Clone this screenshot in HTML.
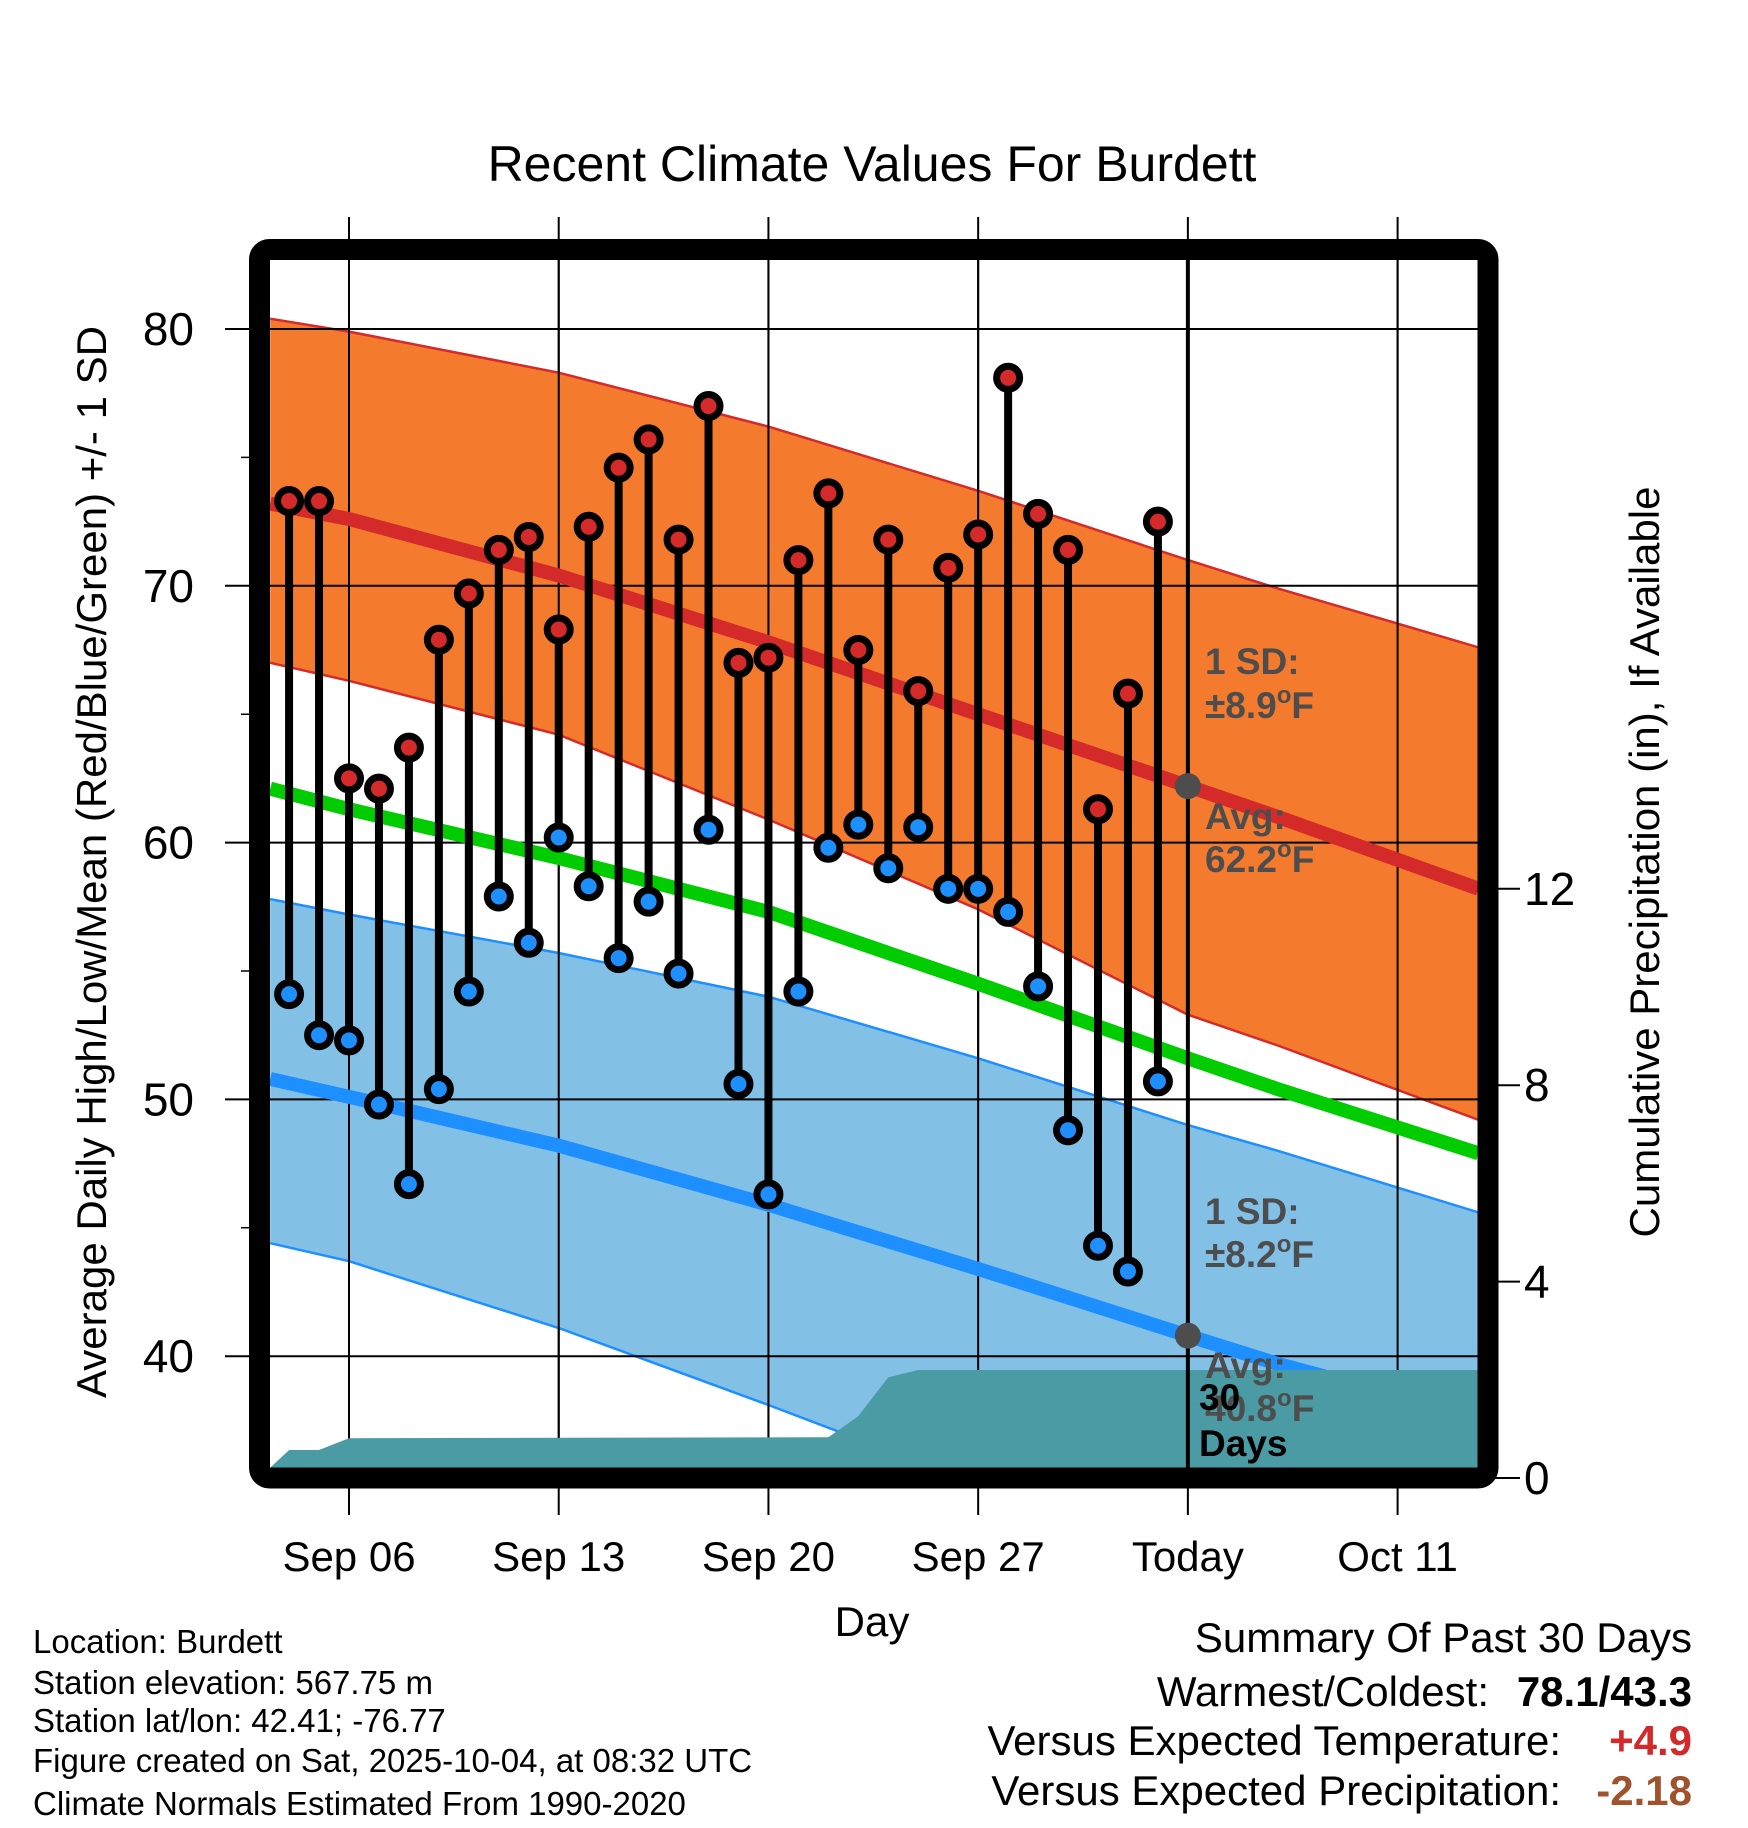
<!DOCTYPE html>
<html><head><meta charset="utf-8"><style>
html,body{margin:0;padding:0;background:#fff;}
svg{display:block;font-family:"Liberation Sans",Arial,sans-serif;}
</style></head><body>
<svg id="chart" width="1748" height="1828" viewBox="0 0 1748 1828" xmlns="http://www.w3.org/2000/svg">
<defs><clipPath id="pc"><rect x="270" y="260" width="1208" height="1208"/></clipPath></defs>
<text x="872" y="181" font-size="50" text-anchor="middle">Recent Climate Values For Burdett</text>
<g id="grid"></g>
<g id="plot" clip-path="url(#pc)"></g>
<g id="marks"></g>
<g id="ann" font-weight="bold" font-size="37" fill="#4d4d4d">
<text x="1205" y="674">1 SD:</text>
<text x="1205" y="718">±8.9<tspan dy="-15" font-size="24">o</tspan><tspan dy="15">F</tspan></text>
<text x="1205" y="829">Avg:</text>
<text x="1205" y="872">62.2<tspan dy="-15" font-size="24">o</tspan><tspan dy="15">F</tspan></text>
<text x="1205" y="1224">1 SD:</text>
<text x="1205" y="1267">±8.2<tspan dy="-15" font-size="24">o</tspan><tspan dy="15">F</tspan></text>
<text x="1205" y="1378">Avg:</text>
<text x="1205" y="1421">40.8<tspan dy="-15" font-size="24">o</tspan><tspan dy="15">F</tspan></text>
<text x="1199" y="1410" fill="#000">30</text>
<text x="1199" y="1456" fill="#000">Days</text>
</g>
<rect x="259.5" y="249.5" width="1228.5" height="1228.5" rx="10" fill="none" stroke="#000" stroke-width="21"/>
<g id="axes" font-size="46"></g>
<text transform="translate(106,862) rotate(-90)" font-size="42" text-anchor="middle">Average Daily High/Low/Mean (Red/Blue/Green) +/- 1 SD</text>
<text transform="translate(1659,862) rotate(-90)" font-size="42" text-anchor="middle">Cumulative Precipitation (in), If Available</text>
<text x="872" y="1636" font-size="42" text-anchor="middle">Day</text>
<g font-size="33">
<text x="33" y="1653">Location: Burdett</text>
<text x="33" y="1694">Station elevation: 567.75 m</text>
<text x="33" y="1732">Station lat/lon: 42.41; -76.77</text>
<text x="33" y="1772">Figure created on Sat, 2025-10-04, at 08:32 UTC</text>
<text x="33" y="1815">Climate Normals Estimated From 1990-2020</text>
</g>
<g font-size="42">
<text x="1692" y="1652" text-anchor="end">Summary Of Past 30 Days</text>
<text x="1489" y="1706" text-anchor="end">Warmest/Coldest:</text>
<text x="1692" y="1706" text-anchor="end" font-weight="bold">78.1/43.3</text>
<text x="1561" y="1755" text-anchor="end">Versus Expected Temperature:</text>
<text x="1692" y="1755" text-anchor="end" font-weight="bold" fill="#d22a2a">+4.9</text>
<text x="1561" y="1805" text-anchor="end">Versus Expected Precipitation:</text>
<text x="1692" y="1805" text-anchor="end" font-weight="bold" fill="#a0522d">-2.18</text>
</g>
</svg>
<script>
const days = [4,5,6,7,8,9,10,11,12,13,14,15,16,17,18,19,20,21,22,23,24,25,26,27,28,29,30,31,32,33];
const highs = [73.3,73.3,62.5,62.1,63.7,67.9,69.7,71.4,71.9,68.3,72.3,74.6,75.7,71.8,77.0,67.0,67.2,71.0,73.6,67.5,71.8,65.9,70.7,72.0,78.1,72.8,71.4,61.3,65.8,72.5];
const lows = [54.1,52.5,52.3,49.8,46.7,50.4,54.2,57.9,56.1,60.2,58.3,55.5,57.7,54.9,60.5,50.6,46.3,54.2,59.8,60.7,59.0,60.6,58.2,58.2,57.3,54.4,48.8,44.3,43.3,50.7];
const normDays = [3.37,6,13,20,27,34,37,43.7];
const normHigh = [73.2,72.6,70.4,67.8,65.0,62.2,61.0,58.2];
const highSdTop = [80.4,79.9,78.3,76.2,73.7,71.0,69.9,67.6];
const highSdBot = [67.0,66.3,64.2,60.9,57.4,53.3,52.1,49.2];
const normMean = [62.1,61.3,59.4,57.3,54.5,51.6,50.4,47.9];
const normLow = [50.8,50.1,48.2,45.9,43.4,40.8,39.7,37.6];
const lowSdTop = [57.8,57.2,55.7,54.0,51.6,49.0,48.0,45.6];
const lowSdBot = [44.4,43.7,41.1,38.1,35.0,32.2,31.0,28.1];
const precipDays = [3,4,5,6,22,23,24,25,43.7];
const precipVals = [0,0.57,0.57,0.81,0.83,1.26,2.05,2.2,2.2];
const xTickDays = [6,13,20,27,34,41];
const xTickLabels = ["Sep 06","Sep 13","Sep 20","Sep 27","Today","Oct 11"];
const yTicks = [40,50,60,70,80];
const yMinor = [45,55,65,75];
const y2Ticks = [0,4,8,12];
const todayDay = 34;

const NS='http://www.w3.org/2000/svg';
const X = d => 349 + (d-6)*29.96;
const Y = v => 329 + (80-v)*25.68;
const YP = p => 1478 - p*49.1;
function mk(parent, tag, attrs){const e=document.createElementNS(NS,tag);for(const k in attrs)e.setAttribute(k,attrs[k]);parent.appendChild(e);return e;}
const plot=document.getElementById('plot'), grid=document.getElementById('grid'), marks=document.getElementById('marks'), axes=document.getElementById('axes');
function linePts(ds,vs){return ds.map((d,i)=>X(d).toFixed(1)+','+Y(vs[i]).toFixed(1));}
function band(top,bot,fill,edge,name){
  const pts=linePts(normDays,top).concat(linePts(normDays,bot).reverse());
  const p=mk(plot,'polygon',{points:pts.join(' '),fill:fill});
  
  
  [top,bot].forEach(a=>{const l=mk(plot,'polyline',{points:linePts(normDays,a).join(' '),fill:'none',stroke:edge,'stroke-width':2.5});
    
    });
}
band(highSdTop,highSdBot,'#f47a2e','#d42a2a','high-sd-band');
band(lowSdTop,lowSdBot,'#82c0e6','#1e8fff','low-sd-band');
yTicks.forEach(v=>{const l=mk(plot,'line',{x1:225,x2:1478,y1:Y(v),y2:Y(v),stroke:'#000','stroke-width':2});
  
  });
xTickDays.forEach(d=>{const l=mk(plot,'line',{x1:X(d),x2:X(d),y1:260,y2:1468,stroke:'#000','stroke-width':2});
  
  });
[['normal-mean-line',normMean,'#00cc00'],['normal-high-line',normHigh,'#d42a2a'],['normal-low-line',normLow,'#1e8fff']].forEach(([n,a,c])=>{
  const l=mk(plot,'polyline',{points:linePts(normDays,a).join(' '),fill:'none',stroke:c,'stroke-width':14,'stroke-linejoin':'round'});
  
  });
const pp=[X(precipDays[0])+','+YP(0)].concat(precipDays.map((d,i)=>X(d).toFixed(1)+','+YP(precipVals[i]).toFixed(1))).concat([X(43.7)+','+YP(0)]);
const pr=mk(plot,'polygon',{points:pp.join(' '),fill:'#4a9ba3'});


yTicks.forEach(v=>{const l=mk(grid,'line',{x1:225,x2:270,y1:Y(v),y2:Y(v),stroke:'#000','stroke-width':2});
  
  });
yMinor.forEach(v=>{const l=mk(grid,'line',{x1:241,x2:270,y1:Y(v),y2:Y(v),stroke:'#000','stroke-width':1.5});
  
  });
xTickDays.forEach(d=>{const l=mk(grid,'line',{x1:X(d),x2:X(d),y1:217,y2:1515,stroke:'#000','stroke-width':2});
  
  });
y2Ticks.forEach(p=>{const l=mk(grid,'line',{x1:1478,x2:1520,y1:YP(p),y2:YP(p),stroke:'#000','stroke-width':2});
  
  });
days.forEach((d,i)=>{
  const s=mk(marks,'line',{x1:X(d),x2:X(d),y1:Y(highs[i]),y2:Y(lows[i]),stroke:'#000','stroke-width':8});
  
  
});
days.forEach((d,i)=>{
  const h=mk(marks,'circle',{cx:X(d),cy:Y(highs[i]),r:11.5,fill:'#d42a2a',stroke:'#000','stroke-width':7});
  
  
  const l=mk(marks,'circle',{cx:X(d),cy:Y(lows[i]),r:11.5,fill:'#1e8fff',stroke:'#000','stroke-width':7});
  
  
});
const tl=mk(marks,'line',{x1:X(todayDay),x2:X(todayDay),y1:255,y2:1470,stroke:'#000','stroke-width':4});


const ti=normDays.indexOf(todayDay);
[normHigh[ti],normLow[ti]].forEach(v=>{const c=mk(marks,'circle',{cx:X(todayDay),cy:Y(v),r:13,fill:'#4d4d4d'});
  
  });
yTicks.forEach(v=>{const t=mk(axes,'text',{x:194,y:Y(v)+16,'text-anchor':'end'});t.textContent=v;
  
  });
y2Ticks.forEach(p=>{const t=mk(axes,'text',{x:1524,y:YP(p)+16});t.textContent=p;
  
  });
xTickDays.forEach((d,i)=>{const t=mk(axes,'text',{x:X(d),y:1571,'text-anchor':'middle','font-size':42});t.textContent=xTickLabels[i];
  
  });
</script>
</body></html>
